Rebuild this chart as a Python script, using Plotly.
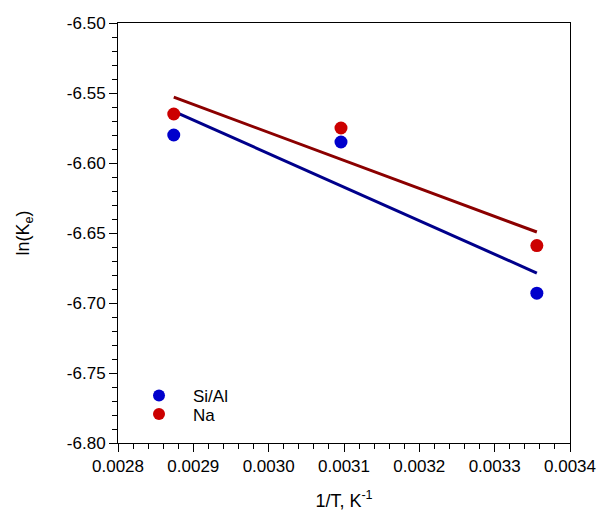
import plotly.graph_objects as go

inv_T = [0.002874, 0.003096, 0.003356]
ln_ke_sial = [-6.580, -6.585, -6.693]
ln_ke_na = [-6.565, -6.575, -6.659]

fit_x = [0.002874, 0.003356]
fit_sial = [-6.5631, -6.6786]
fit_na = [-6.5530, -6.6493]

x_ticks = [0.0028, 0.0029, 0.0030, 0.0031, 0.0032, 0.0033, 0.0034]
y_ticks = [-6.80, -6.75, -6.70, -6.65, -6.60, -6.55, -6.50]

font = dict(family="Liberation Sans, Arial, sans-serif", size=17, color="black")

fig = go.Figure()
fig.add_trace(go.Scatter(x=fit_x, y=fit_sial, mode="lines", line=dict(color="#00008B", width=3),
                         showlegend=False, hoverinfo="skip"))
fig.add_trace(go.Scatter(x=fit_x, y=fit_na, mode="lines", line=dict(color="#8B0000", width=3),
                         showlegend=False, hoverinfo="skip"))
fig.add_trace(go.Scatter(x=inv_T, y=ln_ke_sial, mode="markers", name="Si/Al", legend="legend",
                         marker=dict(color="#0000CC", size=13)))
fig.add_trace(go.Scatter(x=inv_T, y=ln_ke_na, mode="markers", name="Na", legend="legend2",
                         marker=dict(color="#CC0000", size=13)))

axis_common = dict(showgrid=False, zeroline=False, showline=True, linecolor="black", linewidth=1,
                   mirror=True, ticks="outside", ticklen=8, tickcolor="black", tickwidth=1,
                   tickfont=font)

fig.update_xaxes(range=[0.0028, 0.0034], tickvals=x_ticks, ticktext=[f"{v:.4f}" for v in x_ticks],
                 minor=dict(ticks="outside", ticklen=5, dtick=0.00002, tickcolor="black", showgrid=False),
                 title=dict(text="1/T, K<sup>-1</sup>", font=dict(size=18, family=font["family"]), standoff=18),
                 **axis_common)
fig.update_yaxes(range=[-6.80, -6.50], tickvals=y_ticks, ticktext=[f"{v:.2f}" for v in y_ticks],
                 minor=dict(ticks="outside", ticklen=5, dtick=0.01, tickcolor="black", showgrid=False),
                 title=dict(text="ln(K<sub>e</sub>)", font=dict(size=18, family=font["family"]), standoff=32),
                 **axis_common)

leg_common = dict(xanchor="left", yanchor="top", bgcolor="rgba(0,0,0,0)", font=font,
                  itemsizing="constant", itemwidth=58)
fig.update_layout(
    width=608, height=513,
    margin=dict(l=118, r=38, t=23, b=70, autoexpand=False),
    plot_bgcolor="white", paper_bgcolor="white",
    font=font,
    legend=dict(x=0.0155, y=0.1548, **leg_common),
    legend2=dict(x=0.0155, y=0.111, **leg_common),
)

fig.write_html("out.html")
